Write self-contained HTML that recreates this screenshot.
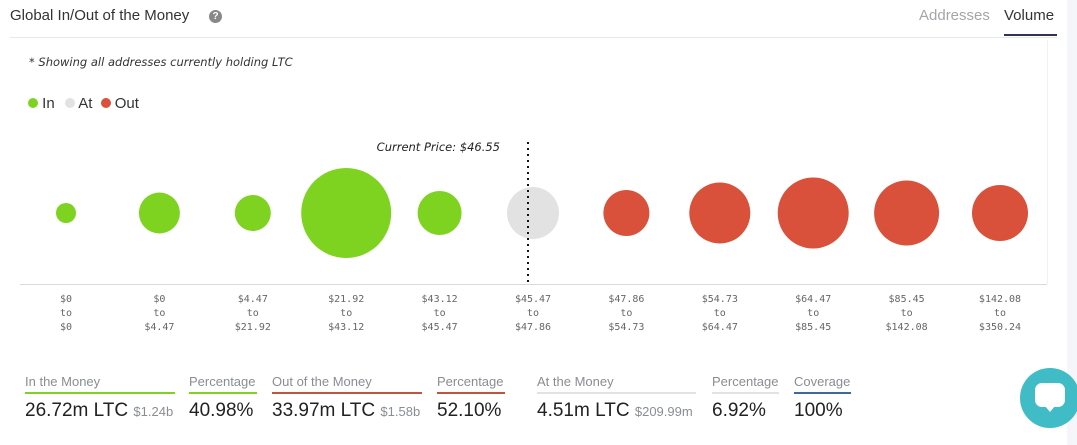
<!DOCTYPE html>
<html><head><meta charset="utf-8"><style>
body{margin:0;width:1077px;height:445px;overflow:hidden;background:#f4f6f9;font-family:"Liberation Sans",sans-serif;}
#card{position:absolute;left:0;top:0;width:1067px;height:445px;background:#fff;}
.t{position:absolute;white-space:nowrap;}
.hd{position:absolute;top:374px;font-size:13px;color:#8a8d92;padding-bottom:3px;white-space:nowrap;}
.val{position:absolute;top:400px;font-size:19px;color:#222;white-space:nowrap;}
.val small{font-size:13px;color:#8a8d92;}
</style></head><body>
<div id="card">
<div class="t" style="left:10px;top:7px;font-size:15px;color:#333;">Global In/Out of the Money</div>
<div class="t" style="left:209px;top:10px;width:13px;height:13px;border-radius:50%;background:#888;color:#fff;font-size:10px;font-weight:bold;text-align:center;line-height:13px;">?</div>
<div class="t" style="left:919px;top:7px;font-size:15px;color:#a3a6aa;">Addresses</div>
<div class="t" style="left:1004px;top:7px;font-size:15px;color:#333;">Volume</div>
<div class="t" style="left:1004px;top:34px;width:53px;height:2px;background:#2c3552;"></div>
<div class="t" style="left:10px;top:37px;width:1047px;height:1px;background:#e6e8eb;"></div>
<div class="t" style="left:29px;top:55px;font-size:11.5px;font-style:italic;color:#333;font-family:'DejaVu Sans',sans-serif;">* Showing all addresses currently holding LTC</div>
<div class="t" style="left:28px;top:95px;font-size:15px;color:#333;">
<span><span style="display:inline-block;width:10px;height:10px;border-radius:50%;background:#7ed321;"></span> In</span>
<span style="margin-left:6px"><span style="display:inline-block;width:10px;height:10px;border-radius:50%;background:#e2e2e2;"></span> At</span>
<span style="margin-left:4px"><span style="display:inline-block;width:10px;height:10px;border-radius:50%;background:#d9513a;"></span> Out</span>
</div>
<svg id="chart" width="1067" height="345" style="position:absolute;left:0;top:0"></svg>
</div>
<div class="hd" style="left:25px;width:150px;border-bottom:2px solid #7ed321;">In the Money</div>
<div class="hd" style="left:189px;width:68px;border-bottom:2px solid #7ed321;">Percentage</div>
<div class="hd" style="left:272px;width:150px;border-bottom:2px solid #c0553f;">Out of the Money</div>
<div class="hd" style="left:437px;width:68px;border-bottom:2px solid #c0553f;">Percentage</div>
<div class="hd" style="left:537px;width:159px;border-bottom:2px solid #e2e2e2;">At the Money</div>
<div class="hd" style="left:712px;width:67px;border-bottom:2px solid #e2e2e2;">Percentage</div>
<div class="hd" style="left:794px;width:57px;border-bottom:2px solid #3d6a9e;">Coverage</div>
<div class="val" style="left:25px;">26.72m LTC <small>$1.24b</small></div>
<div class="val" style="left:189px;">40.98%</div>
<div class="val" style="left:272px;">33.97m LTC <small>$1.58b</small></div>
<div class="val" style="left:437px;">52.10%</div>
<div class="val" style="left:537px;">4.51m LTC <small>$209.99m</small></div>
<div class="val" style="left:712px;">6.92%</div>
<div class="val" style="left:794px;">100%</div>
<div class="t" style="left:1020px;top:368px;width:60px;height:60px;border-radius:50%;background:#3fbcc6;">
<div style="position:absolute;left:15px;top:15px;width:30px;height:24px;background:#fff;border-radius:7px;"></div>
<div style="position:absolute;left:25px;top:38px;width:0;height:0;border-left:5px solid transparent;border-right:5px solid transparent;border-top:6px solid #fff;"></div>
</div>
<script>
const categories=["$0|$0","$0|$4.47","$4.47|$21.92","$21.92|$43.12","$43.12|$45.47","$45.47|$47.86","$47.86|$54.73","$54.73|$64.47","$64.47|$85.45","$85.45|$142.08","$142.08|$350.24"];
const volumes=[100,420,324,2025,484,676,529,930,1260,1056,784];
const status=["in","in","in","in","in","at","out","out","out","out","out"];
const currentPrice=46.55;
const colors={in:"#7ed321",at:"#e2e2e2",out:"#d9513a"};
const svg=document.getElementById('chart');
const NS="http://www.w3.org/2000/svg";
const x0=66,step=93.4,cy=213;
function xPos(i){return x0+i*step;}
function rScale(v){return Math.sqrt(v);}
const axis=document.createElementNS(NS,'line');
axis.setAttribute('x1',20);axis.setAttribute('x2',1047);axis.setAttribute('y1',284.5);axis.setAttribute('y2',284.5);
axis.setAttribute('stroke','#d8dadd');


svg.appendChild(axis);
const rl=document.createElementNS(NS,'line');
rl.setAttribute('x1',1047.5);rl.setAttribute('x2',1047.5);rl.setAttribute('y1',40);rl.setAttribute('y2',284);rl.setAttribute('stroke','#f0f1f3');


svg.appendChild(rl);
categories.forEach((c,i)=>{
  const ci=document.createElementNS(NS,'circle');
  ci.setAttribute('cx',xPos(i));ci.setAttribute('cy',cy);ci.setAttribute('r',rScale(volumes[i]));ci.setAttribute('fill',colors[status[i]]);
  
  
  svg.appendChild(ci);
  const parts=c.split('|');
  [parts[0],'to',parts[1]].forEach((s,k)=>{
    const t=document.createElementNS(NS,'text');
    t.setAttribute('x',xPos(i));t.setAttribute('y',302+k*14);t.setAttribute('text-anchor','middle');
    t.setAttribute('font-size','10');t.setAttribute('fill','#666');t.setAttribute('font-family','DejaVu Sans Mono, monospace');
    t.textContent=s;
    
    
    svg.appendChild(t);
  });
});
const dl=document.createElementNS(NS,'line');
dl.setAttribute('x1',528);dl.setAttribute('x2',528);dl.setAttribute('y1',142);dl.setAttribute('y2',282);
dl.setAttribute('stroke','#111');dl.setAttribute('stroke-width','2');dl.setAttribute('stroke-dasharray','2,4');


svg.appendChild(dl);
const ct=document.createElementNS(NS,'text');
ct.setAttribute('x',500);ct.setAttribute('y',151);ct.setAttribute('text-anchor','end');ct.setAttribute('font-size','11.5');
ct.setAttribute('font-style','italic');ct.setAttribute('fill','#222');ct.setAttribute('font-family','DejaVu Sans, sans-serif');
ct.textContent='Current Price: $'+currentPrice.toFixed(2);


svg.appendChild(ct);
</script>
</body></html>
